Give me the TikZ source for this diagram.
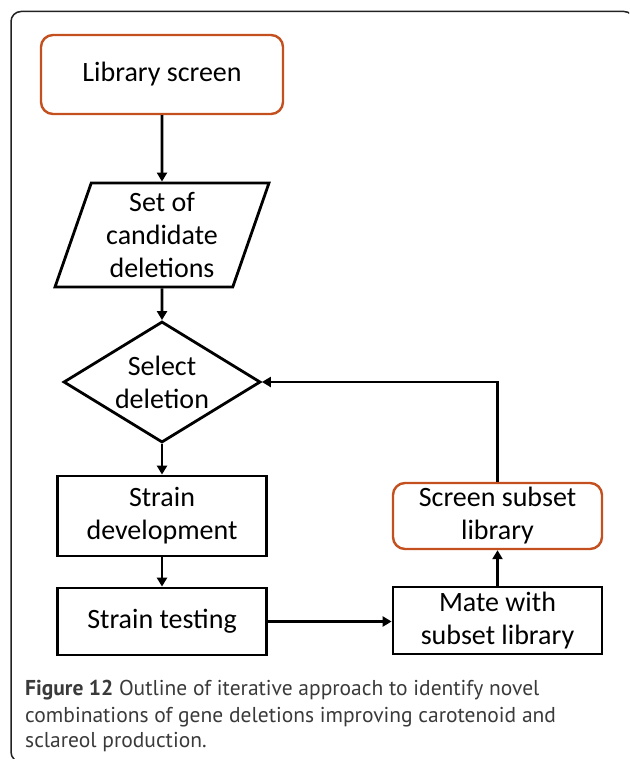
\documentclass[tikz,border=0pt]{standalone}
\usepackage{fontspec}
\setmainfont{Carlito}
\newfontfamily\capfont{PT Sans}
\usetikzlibrary{shapes.geometric,arrows.meta}
\definecolor{orng}{HTML}{C4501F}
\definecolor{capgray}{HTML}{3A3A3A}
\definecolor{framegray}{HTML}{222222}
\begin{document}
\begin{tikzpicture}[x=1pt,y=-1pt,
  box/.style={draw=black,line width=2.8pt,inner sep=0pt,align=center,
    font=\fontsize{28}{33}\selectfont},
  term/.style={box,draw=orng,line width=2.4pt,rounded corners=12pt},
  proc/.style={box,minimum width=209pt},
  io/.style={box,trapezium,trapezium left angle=67,trapezium right angle=113,
    trapezium stretches body,minimum width=214pt,minimum height=104pt},
  dec/.style={box,diamond,aspect=1.63,minimum width=197pt,minimum height=121pt},
  arr/.style={line width=2.8pt,-{Triangle[length=9pt,width=10pt]}},
  captext/.style={anchor=base west,inner sep=0pt,text=capgray,
    font=\capfont\fontsize{21.5}{26}\selectfont},
  framebox/.style={draw=framegray,line width=1.5pt,rounded corners=10pt}]
\useasboundingbox (0,0) rectangle (629,759);
\begin{scope}
  \clip (0,0) rectangle (629,759);
  \draw[framebox] (11,11.5) rectangle (634,762);
\end{scope}
\node[term,minimum width=242pt,minimum height=79pt] (lib) at (162,74.5) {Library screen};
\node[io] (cand) at (162,235) {Set of\\candidate\\deletions};
\node[dec] (sel) at (162,382) {Select\\deletion};
\node[proc,minimum height=80pt] (dev) at (162,516) {Strain\\development};
\node[proc,minimum height=67pt] (test) at (162,621.5) {Strain testing};
\node[proc,minimum height=67pt] (mate) at (497.5,620.5) {Mate with\\subset library};
\node[term,minimum width=209pt,minimum height=66pt] (scr) at (497.5,516) {Screen subset\\library};
\draw[arr] (lib) -- (cand);
\draw[arr] (cand) -- (sel);
\draw[arr] (sel) -- (dev);
\draw[arr] (dev) -- (test);
\draw[arr] (test.east) -- (test.east -| mate.west);
\draw[arr] (mate) -- (scr);
\draw[arr] (scr.north) |- (sel.east);
\node[captext] (c1) at (25,695) {\textbf{Figure 12} Outline of iterative approach to identify novel};
\node[captext] (c2) at (25,722) {combinations of gene deletions improving carotenoid and};
\node[captext] (c3) at (25,747) {sclareol production.};
\end{tikzpicture}
\end{document}
